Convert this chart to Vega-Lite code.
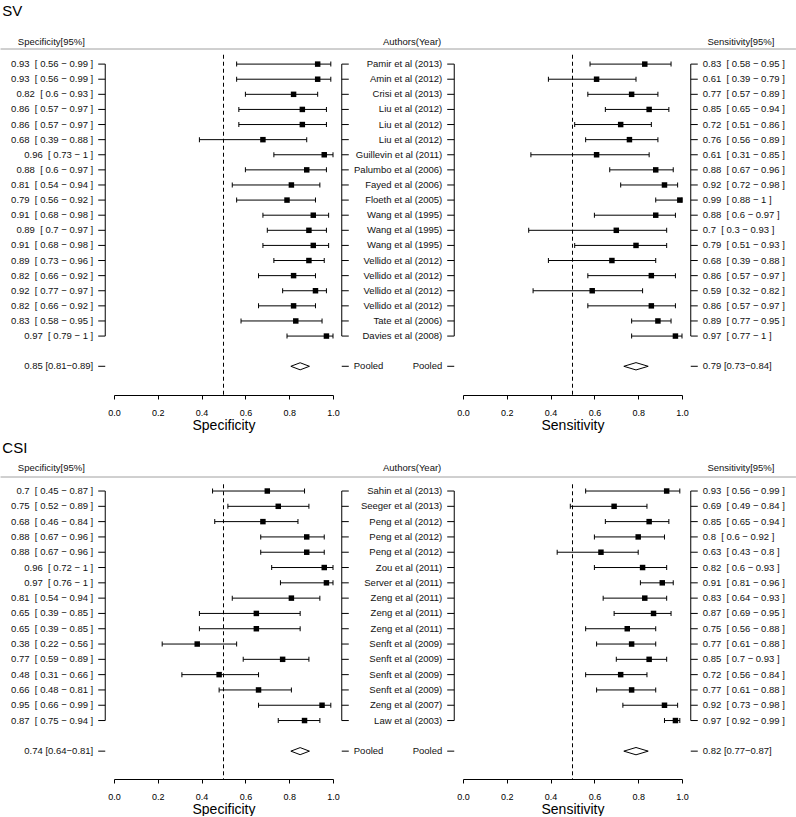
{
  "$schema": "https://vega.github.io/schema/vega-lite/v6.json",
  "background": "white",
  "padding": {"left": 0, "top": 4, "right": 0, "bottom": 0},
  "config": {
    "font": "Liberation Sans",
    "view": {"stroke": null},
    "text": {"font": "Liberation Sans", "fontSize": 9.5, "color": "#111"},
    "axis": {"labelFont": "Liberation Sans", "titleFont": "Liberation Sans"}
  },
  "datasets": {
    "one": [{}],
    "sv": [
      {"order": 0, "author": "Pamir et al (2013)", "spec": 0.93, "spec_lo": 0.56, "spec_hi": 0.99, "spec_label": "0.93 \u00a0[ 0.56 − 0.99 ]", "sens": 0.83, "sens_lo": 0.58, "sens_hi": 0.95, "sens_label": "0.83 \u00a0[ 0.58 − 0.95 ]", "pooled": false},
      {"order": 1, "author": "Amin et al (2012)", "spec": 0.93, "spec_lo": 0.56, "spec_hi": 0.99, "spec_label": "0.93 \u00a0[ 0.56 − 0.99 ]", "sens": 0.61, "sens_lo": 0.39, "sens_hi": 0.79, "sens_label": "0.61 \u00a0[ 0.39 − 0.79 ]", "pooled": false},
      {"order": 2, "author": "Crisi et al (2013)", "spec": 0.82, "spec_lo": 0.6, "spec_hi": 0.93, "spec_label": "0.82 \u00a0[ 0.6 − 0.93 ]", "sens": 0.77, "sens_lo": 0.57, "sens_hi": 0.89, "sens_label": "0.77 \u00a0[ 0.57 − 0.89 ]", "pooled": false},
      {"order": 3, "author": "Liu et al (2012)", "spec": 0.86, "spec_lo": 0.57, "spec_hi": 0.97, "spec_label": "0.86 \u00a0[ 0.57 − 0.97 ]", "sens": 0.85, "sens_lo": 0.65, "sens_hi": 0.94, "sens_label": "0.85 \u00a0[ 0.65 − 0.94 ]", "pooled": false},
      {"order": 4, "author": "Liu et al (2012)", "spec": 0.86, "spec_lo": 0.57, "spec_hi": 0.97, "spec_label": "0.86 \u00a0[ 0.57 − 0.97 ]", "sens": 0.72, "sens_lo": 0.51, "sens_hi": 0.86, "sens_label": "0.72 \u00a0[ 0.51 − 0.86 ]", "pooled": false},
      {"order": 5, "author": "Liu et al (2012)", "spec": 0.68, "spec_lo": 0.39, "spec_hi": 0.88, "spec_label": "0.68 \u00a0[ 0.39 − 0.88 ]", "sens": 0.76, "sens_lo": 0.56, "sens_hi": 0.89, "sens_label": "0.76 \u00a0[ 0.56 − 0.89 ]", "pooled": false},
      {"order": 6, "author": "Guillevin et al (2011)", "spec": 0.96, "spec_lo": 0.73, "spec_hi": 1, "spec_label": "0.96 \u00a0[ 0.73 − 1 ]", "sens": 0.61, "sens_lo": 0.31, "sens_hi": 0.85, "sens_label": "0.61 \u00a0[ 0.31 − 0.85 ]", "pooled": false},
      {"order": 7, "author": "Palumbo et al (2006)", "spec": 0.88, "spec_lo": 0.6, "spec_hi": 0.97, "spec_label": "0.88 \u00a0[ 0.6 − 0.97 ]", "sens": 0.88, "sens_lo": 0.67, "sens_hi": 0.96, "sens_label": "0.88 \u00a0[ 0.67 − 0.96 ]", "pooled": false},
      {"order": 8, "author": "Fayed et al (2006)", "spec": 0.81, "spec_lo": 0.54, "spec_hi": 0.94, "spec_label": "0.81 \u00a0[ 0.54 − 0.94 ]", "sens": 0.92, "sens_lo": 0.72, "sens_hi": 0.98, "sens_label": "0.92 \u00a0[ 0.72 − 0.98 ]", "pooled": false},
      {"order": 9, "author": "Floeth et al (2005)", "spec": 0.79, "spec_lo": 0.56, "spec_hi": 0.92, "spec_label": "0.79 \u00a0[ 0.56 − 0.92 ]", "sens": 0.99, "sens_lo": 0.88, "sens_hi": 1, "sens_label": "0.99 \u00a0[ 0.88 − 1 ]", "pooled": false},
      {"order": 10, "author": "Wang et al (1995)", "spec": 0.91, "spec_lo": 0.68, "spec_hi": 0.98, "spec_label": "0.91 \u00a0[ 0.68 − 0.98 ]", "sens": 0.88, "sens_lo": 0.6, "sens_hi": 0.97, "sens_label": "0.88 \u00a0[ 0.6 − 0.97 ]", "pooled": false},
      {"order": 11, "author": "Wang et al (1995)", "spec": 0.89, "spec_lo": 0.7, "spec_hi": 0.97, "spec_label": "0.89 \u00a0[ 0.7 − 0.97 ]", "sens": 0.7, "sens_lo": 0.3, "sens_hi": 0.93, "sens_label": "0.7 \u00a0[ 0.3 − 0.93 ]", "pooled": false},
      {"order": 12, "author": "Wang et al (1995)", "spec": 0.91, "spec_lo": 0.68, "spec_hi": 0.98, "spec_label": "0.91 \u00a0[ 0.68 − 0.98 ]", "sens": 0.79, "sens_lo": 0.51, "sens_hi": 0.93, "sens_label": "0.79 \u00a0[ 0.51 − 0.93 ]", "pooled": false},
      {"order": 13, "author": "Vellido et al (2012)", "spec": 0.89, "spec_lo": 0.73, "spec_hi": 0.96, "spec_label": "0.89 \u00a0[ 0.73 − 0.96 ]", "sens": 0.68, "sens_lo": 0.39, "sens_hi": 0.88, "sens_label": "0.68 \u00a0[ 0.39 − 0.88 ]", "pooled": false},
      {"order": 14, "author": "Vellido et al (2012)", "spec": 0.82, "spec_lo": 0.66, "spec_hi": 0.92, "spec_label": "0.82 \u00a0[ 0.66 − 0.92 ]", "sens": 0.86, "sens_lo": 0.57, "sens_hi": 0.97, "sens_label": "0.86 \u00a0[ 0.57 − 0.97 ]", "pooled": false},
      {"order": 15, "author": "Vellido et al (2012)", "spec": 0.92, "spec_lo": 0.77, "spec_hi": 0.97, "spec_label": "0.92 \u00a0[ 0.77 − 0.97 ]", "sens": 0.59, "sens_lo": 0.32, "sens_hi": 0.82, "sens_label": "0.59 \u00a0[ 0.32 − 0.82 ]", "pooled": false},
      {"order": 16, "author": "Vellido et al (2012)", "spec": 0.82, "spec_lo": 0.66, "spec_hi": 0.92, "spec_label": "0.82 \u00a0[ 0.66 − 0.92 ]", "sens": 0.86, "sens_lo": 0.57, "sens_hi": 0.97, "sens_label": "0.86 \u00a0[ 0.57 − 0.97 ]", "pooled": false},
      {"order": 17, "author": "Tate et al (2006)", "spec": 0.83, "spec_lo": 0.58, "spec_hi": 0.95, "spec_label": "0.83 \u00a0[ 0.58 − 0.95 ]", "sens": 0.89, "sens_lo": 0.77, "sens_hi": 0.95, "sens_label": "0.89 \u00a0[ 0.77 − 0.95 ]", "pooled": false},
      {"order": 18, "author": "Davies et al (2008)", "spec": 0.97, "spec_lo": 0.79, "spec_hi": 1, "spec_label": "0.97 \u00a0[ 0.79 − 1 ]", "sens": 0.97, "sens_lo": 0.77, "sens_hi": 1, "sens_label": "0.97 \u00a0[ 0.77 − 1 ]", "pooled": false},
      {"order": 20, "author": "Pooled", "spec": 0.85, "spec_lo": 0.81, "spec_hi": 0.89, "spec_label": "0.85 [0.81−0.89]", "sens": 0.79, "sens_lo": 0.73, "sens_hi": 0.84, "sens_label": "0.79 [0.73−0.84]", "pooled": true}
    ],
    "csi": [
      {"order": 0, "author": "Sahin et al (2013)", "spec": 0.7, "spec_lo": 0.45, "spec_hi": 0.87, "spec_label": "0.7 \u00a0[ 0.45 − 0.87 ]", "sens": 0.93, "sens_lo": 0.56, "sens_hi": 0.99, "sens_label": "0.93 \u00a0[ 0.56 − 0.99 ]", "pooled": false},
      {"order": 1, "author": "Seeger et al (2013)", "spec": 0.75, "spec_lo": 0.52, "spec_hi": 0.89, "spec_label": "0.75 \u00a0[ 0.52 − 0.89 ]", "sens": 0.69, "sens_lo": 0.49, "sens_hi": 0.84, "sens_label": "0.69 \u00a0[ 0.49 − 0.84 ]", "pooled": false},
      {"order": 2, "author": "Peng et al (2012)", "spec": 0.68, "spec_lo": 0.46, "spec_hi": 0.84, "spec_label": "0.68 \u00a0[ 0.46 − 0.84 ]", "sens": 0.85, "sens_lo": 0.65, "sens_hi": 0.94, "sens_label": "0.85 \u00a0[ 0.65 − 0.94 ]", "pooled": false},
      {"order": 3, "author": "Peng et al (2012)", "spec": 0.88, "spec_lo": 0.67, "spec_hi": 0.96, "spec_label": "0.88 \u00a0[ 0.67 − 0.96 ]", "sens": 0.8, "sens_lo": 0.6, "sens_hi": 0.92, "sens_label": "0.8 \u00a0[ 0.6 − 0.92 ]", "pooled": false},
      {"order": 4, "author": "Peng et al (2012)", "spec": 0.88, "spec_lo": 0.67, "spec_hi": 0.96, "spec_label": "0.88 \u00a0[ 0.67 − 0.96 ]", "sens": 0.63, "sens_lo": 0.43, "sens_hi": 0.8, "sens_label": "0.63 \u00a0[ 0.43 − 0.8 ]", "pooled": false},
      {"order": 5, "author": "Zou et al (2011)", "spec": 0.96, "spec_lo": 0.72, "spec_hi": 1, "spec_label": "0.96 \u00a0[ 0.72 − 1 ]", "sens": 0.82, "sens_lo": 0.6, "sens_hi": 0.93, "sens_label": "0.82 \u00a0[ 0.6 − 0.93 ]", "pooled": false},
      {"order": 6, "author": "Server et al (2011)", "spec": 0.97, "spec_lo": 0.76, "spec_hi": 1, "spec_label": "0.97 \u00a0[ 0.76 − 1 ]", "sens": 0.91, "sens_lo": 0.81, "sens_hi": 0.96, "sens_label": "0.91 \u00a0[ 0.81 − 0.96 ]", "pooled": false},
      {"order": 7, "author": "Zeng et al (2011)", "spec": 0.81, "spec_lo": 0.54, "spec_hi": 0.94, "spec_label": "0.81 \u00a0[ 0.54 − 0.94 ]", "sens": 0.83, "sens_lo": 0.64, "sens_hi": 0.93, "sens_label": "0.83 \u00a0[ 0.64 − 0.93 ]", "pooled": false},
      {"order": 8, "author": "Zeng et al (2011)", "spec": 0.65, "spec_lo": 0.39, "spec_hi": 0.85, "spec_label": "0.65 \u00a0[ 0.39 − 0.85 ]", "sens": 0.87, "sens_lo": 0.69, "sens_hi": 0.95, "sens_label": "0.87 \u00a0[ 0.69 − 0.95 ]", "pooled": false},
      {"order": 9, "author": "Zeng et al (2011)", "spec": 0.65, "spec_lo": 0.39, "spec_hi": 0.85, "spec_label": "0.65 \u00a0[ 0.39 − 0.85 ]", "sens": 0.75, "sens_lo": 0.56, "sens_hi": 0.88, "sens_label": "0.75 \u00a0[ 0.56 − 0.88 ]", "pooled": false},
      {"order": 10, "author": "Senft et al (2009)", "spec": 0.38, "spec_lo": 0.22, "spec_hi": 0.56, "spec_label": "0.38 \u00a0[ 0.22 − 0.56 ]", "sens": 0.77, "sens_lo": 0.61, "sens_hi": 0.88, "sens_label": "0.77 \u00a0[ 0.61 − 0.88 ]", "pooled": false},
      {"order": 11, "author": "Senft et al (2009)", "spec": 0.77, "spec_lo": 0.59, "spec_hi": 0.89, "spec_label": "0.77 \u00a0[ 0.59 − 0.89 ]", "sens": 0.85, "sens_lo": 0.7, "sens_hi": 0.93, "sens_label": "0.85 \u00a0[ 0.7 − 0.93 ]", "pooled": false},
      {"order": 12, "author": "Senft et al (2009)", "spec": 0.48, "spec_lo": 0.31, "spec_hi": 0.66, "spec_label": "0.48 \u00a0[ 0.31 − 0.66 ]", "sens": 0.72, "sens_lo": 0.56, "sens_hi": 0.84, "sens_label": "0.72 \u00a0[ 0.56 − 0.84 ]", "pooled": false},
      {"order": 13, "author": "Senft et al (2009)", "spec": 0.66, "spec_lo": 0.48, "spec_hi": 0.81, "spec_label": "0.66 \u00a0[ 0.48 − 0.81 ]", "sens": 0.77, "sens_lo": 0.61, "sens_hi": 0.88, "sens_label": "0.77 \u00a0[ 0.61 − 0.88 ]", "pooled": false},
      {"order": 14, "author": "Zeng et al (2007)", "spec": 0.95, "spec_lo": 0.66, "spec_hi": 0.99, "spec_label": "0.95 \u00a0[ 0.66 − 0.99 ]", "sens": 0.92, "sens_lo": 0.73, "sens_hi": 0.98, "sens_label": "0.92 \u00a0[ 0.73 − 0.98 ]", "pooled": false},
      {"order": 15, "author": "Law et al (2003)", "spec": 0.87, "spec_lo": 0.75, "spec_hi": 0.94, "spec_label": "0.87 \u00a0[ 0.75 − 0.94 ]", "sens": 0.97, "sens_lo": 0.92, "sens_hi": 0.99, "sens_label": "0.97 \u00a0[ 0.92 − 0.99 ]", "pooled": false},
      {"order": 17, "author": "Pooled", "spec": 0.85, "spec_lo": 0.81, "spec_hi": 0.89, "spec_label": "0.74 [0.64−0.81]", "sens": 0.79, "sens_lo": 0.73, "sens_hi": 0.84, "sens_label": "0.82 [0.77−0.87]", "pooled": true}
    ]
  },
  "columns": 2,
  "spacing": {"row": 82, "column": 130},
  "bounds": "flush",
  "concat": [
    {
      "width": 219, "height": 346,
      "data": {"name": "sv"},
      "layer": [
        {"mark": {"type": "rule", "color": "#000", "strokeWidth": 1, "clip": false},
         "transform": [{"filter": "!datum.pooled"}],
         "encoding": {
           "x": {"field": "spec_lo", "type": "quantitative",
                 "scale": {"domain": [0, 1], "nice": false, "zero": false},
                 "axis": {"values": [0, 0.2, 0.4, 0.6, 0.8, 1], "format": ".1f", "title": "Specificity", "grid": false, "domainColor": "#000", "tickColor": "#000", "tickSize": 4, "labelFontSize": 9, "labelColor": "#000", "labelPadding": 9, "labelFlush": false, "labelOverlap": false, "titleFontSize": 14, "titleFontWeight": "normal", "titleColor": "#000", "titleBaseline": "alphabetic", "titleY": 34}},
           "x2": {"field": "spec_hi"},
           "y": {"field": "order", "type": "quantitative", "scale": {"domain": [-1, 21.9], "reverse": true, "nice": false, "zero": false}, "axis": null}
         }},
        {"mark": {"type": "tick", "orient": "vertical", "size": 5, "thickness": 1, "color": "#000", "opacity": 1, "clip": false},
         "transform": [{"filter": "!datum.pooled"}],
         "encoding": {"x": {"field": "spec_lo", "type": "quantitative"}, "y": {"field": "order", "type": "quantitative"}}},
        {"mark": {"type": "tick", "orient": "vertical", "size": 5, "thickness": 1, "color": "#000", "opacity": 1, "clip": false},
         "transform": [{"filter": "!datum.pooled"}],
         "encoding": {"x": {"field": "spec_hi", "type": "quantitative"}, "y": {"field": "order", "type": "quantitative"}}},
        {"mark": {"type": "point", "shape": "square", "filled": true, "size": 30, "color": "#000", "opacity": 1, "clip": false},
         "transform": [{"filter": "!datum.pooled"}],
         "encoding": {"x": {"field": "spec", "type": "quantitative"}, "y": {"field": "order", "type": "quantitative"}}},
        {"mark": {"type": "point", "shape": "M-1,0L0,-0.38L1,0L0,0.38Z", "filled": true, "fill": "#fff", "stroke": "#000", "strokeWidth": 1, "size": 346, "opacity": 1, "clip": false},
         "transform": [{"filter": "datum.pooled"}],
         "encoding": {"x": {"field": "spec", "type": "quantitative"}, "y": {"field": "order", "type": "quantitative"}}},
        {"data": {"name": "one"},
         "mark": {"type": "rule", "color": "#000", "strokeWidth": 1, "strokeDash": [4, 3], "clip": false},
         "encoding": {"x": {"datum": 0.5, "type": "quantitative"}, "y": {"datum": -0.62, "type": "quantitative"}, "y2": {"datum": 21.9}}},
        {"mark": {"type": "rule", "color": "#000", "strokeWidth": 1, "clip": false},
         "transform": [{"filter": "!datum.pooled"}],
         "encoding": {"x": {"datum": -0.04, "type": "quantitative"}, "y": {"aggregate": "min", "field": "order", "type": "quantitative"}, "y2": {"aggregate": "max", "field": "order"}}},
        {"mark": {"type": "rule", "color": "#000", "strokeWidth": 1, "clip": false},
         "transform": [{"filter": "!datum.pooled"}],
         "encoding": {"x": {"datum": 1.04, "type": "quantitative"}, "y": {"aggregate": "min", "field": "order", "type": "quantitative"}, "y2": {"aggregate": "max", "field": "order"}}},
        {"mark": {"type": "rule", "color": "#000", "strokeWidth": 1, "clip": false},
         "encoding": {"x": {"datum": -0.04, "type": "quantitative"}, "x2": {"datum": -0.072}, "y": {"field": "order", "type": "quantitative"}}},
        {"mark": {"type": "rule", "color": "#000", "strokeWidth": 1, "clip": false},
         "encoding": {"x": {"datum": 1.04, "type": "quantitative"}, "x2": {"datum": 1.072}, "y": {"field": "order", "type": "quantitative"}}},
        {"mark": {"type": "text", "align": "right", "baseline": "middle", "dx": -12, "clip": false},
         "encoding": {"x": {"datum": -0.04, "type": "quantitative"}, "y": {"field": "order", "type": "quantitative"}, "text": {"field": "spec_label"}}},
        {"mark": {"type": "text", "align": "left", "baseline": "middle", "dx": 12, "clip": false},
         "transform": [{"filter": "datum.pooled"}],
         "encoding": {"x": {"datum": 1.04, "type": "quantitative"}, "y": {"field": "order", "type": "quantitative"}, "text": {"field": "author"}}},
        {"data": {"name": "one"},
         "mark": {"type": "rule", "color": "#a0a0a0", "strokeWidth": 1, "clip": false},
         "encoding": {"x": {"datum": -0.518, "type": "quantitative"}, "x2": {"datum": 3.114}, "y": {"datum": -1, "type": "quantitative"}}},
        {"data": {"name": "one"},
         "mark": {"type": "text", "align": "left", "baseline": "middle", "fontSize": 15, "color": "#000", "clip": false},
         "encoding": {"x": {"datum": -0.51, "type": "quantitative"}, "y": {"datum": -3.5, "type": "quantitative"}, "text": {"value": "SV"}}},
        {"data": {"name": "one"},
         "mark": {"type": "text", "align": "center", "baseline": "middle", "clip": false},
         "encoding": {"x": {"datum": -0.286, "type": "quantitative"}, "y": {"datum": -1.483, "type": "quantitative"}, "text": {"value": "Specificity[95%]"}}}
      ]
    },
    {
      "width": 219, "height": 346,
      "data": {"name": "sv"},
      "layer": [
        {"mark": {"type": "rule", "color": "#000", "strokeWidth": 1, "clip": false},
         "transform": [{"filter": "!datum.pooled"}],
         "encoding": {
           "x": {"field": "sens_lo", "type": "quantitative",
                 "scale": {"domain": [0, 1], "nice": false, "zero": false},
                 "axis": {"values": [0, 0.2, 0.4, 0.6, 0.8, 1], "format": ".1f", "title": "Sensitivity", "grid": false, "domainColor": "#000", "tickColor": "#000", "tickSize": 4, "labelFontSize": 9, "labelColor": "#000", "labelPadding": 9, "labelFlush": false, "labelOverlap": false, "titleFontSize": 14, "titleFontWeight": "normal", "titleColor": "#000", "titleBaseline": "alphabetic", "titleY": 34}},
           "x2": {"field": "sens_hi"},
           "y": {"field": "order", "type": "quantitative", "scale": {"domain": [-1, 21.9], "reverse": true, "nice": false, "zero": false}, "axis": null}
         }},
        {"mark": {"type": "tick", "orient": "vertical", "size": 5, "thickness": 1, "color": "#000", "opacity": 1, "clip": false},
         "transform": [{"filter": "!datum.pooled"}],
         "encoding": {"x": {"field": "sens_lo", "type": "quantitative"}, "y": {"field": "order", "type": "quantitative"}}},
        {"mark": {"type": "tick", "orient": "vertical", "size": 5, "thickness": 1, "color": "#000", "opacity": 1, "clip": false},
         "transform": [{"filter": "!datum.pooled"}],
         "encoding": {"x": {"field": "sens_hi", "type": "quantitative"}, "y": {"field": "order", "type": "quantitative"}}},
        {"mark": {"type": "point", "shape": "square", "filled": true, "size": 30, "color": "#000", "opacity": 1, "clip": false},
         "transform": [{"filter": "!datum.pooled"}],
         "encoding": {"x": {"field": "sens", "type": "quantitative"}, "y": {"field": "order", "type": "quantitative"}}},
        {"mark": {"type": "point", "shape": "M-1,0L0,-0.3L1,0L0,0.3Z", "filled": true, "fill": "#fff", "stroke": "#000", "strokeWidth": 1, "size": 595, "opacity": 1, "clip": false},
         "transform": [{"filter": "datum.pooled"}],
         "encoding": {"x": {"field": "sens", "type": "quantitative"}, "y": {"field": "order", "type": "quantitative"}}},
        {"data": {"name": "one"},
         "mark": {"type": "rule", "color": "#000", "strokeWidth": 1, "strokeDash": [4, 3], "clip": false},
         "encoding": {"x": {"datum": 0.5, "type": "quantitative"}, "y": {"datum": -0.62, "type": "quantitative"}, "y2": {"datum": 21.9}}},
        {"mark": {"type": "rule", "color": "#000", "strokeWidth": 1, "clip": false},
         "transform": [{"filter": "!datum.pooled"}],
         "encoding": {"x": {"datum": -0.04, "type": "quantitative"}, "y": {"aggregate": "min", "field": "order", "type": "quantitative"}, "y2": {"aggregate": "max", "field": "order"}}},
        {"mark": {"type": "rule", "color": "#000", "strokeWidth": 1, "clip": false},
         "transform": [{"filter": "!datum.pooled"}],
         "encoding": {"x": {"datum": 1.04, "type": "quantitative"}, "y": {"aggregate": "min", "field": "order", "type": "quantitative"}, "y2": {"aggregate": "max", "field": "order"}}},
        {"mark": {"type": "rule", "color": "#000", "strokeWidth": 1, "clip": false},
         "encoding": {"x": {"datum": -0.04, "type": "quantitative"}, "x2": {"datum": -0.072}, "y": {"field": "order", "type": "quantitative"}}},
        {"mark": {"type": "rule", "color": "#000", "strokeWidth": 1, "clip": false},
         "encoding": {"x": {"datum": 1.04, "type": "quantitative"}, "x2": {"datum": 1.072}, "y": {"field": "order", "type": "quantitative"}}},
        {"mark": {"type": "text", "align": "right", "baseline": "middle", "dx": -12, "clip": false},
         "encoding": {"x": {"datum": -0.04, "type": "quantitative"}, "y": {"field": "order", "type": "quantitative"}, "text": {"field": "author"}}},
        {"mark": {"type": "text", "align": "left", "baseline": "middle", "dx": 12, "clip": false},
         "encoding": {"x": {"datum": 1.04, "type": "quantitative"}, "y": {"field": "order", "type": "quantitative"}, "text": {"field": "sens_label"}}},
        {"data": {"name": "one"},
         "mark": {"type": "text", "align": "right", "baseline": "middle", "dx": -13, "clip": false},
         "encoding": {"x": {"datum": -0.04, "type": "quantitative"}, "y": {"datum": -1.483, "type": "quantitative"}, "text": {"value": "Authors(Year)"}}},
        {"data": {"name": "one"},
         "mark": {"type": "text", "align": "center", "baseline": "middle", "clip": false},
         "encoding": {"x": {"datum": 1.269, "type": "quantitative"}, "y": {"datum": -1.483, "type": "quantitative"}, "text": {"value": "Sensitivity[95%]"}}}
      ]
    },
    {
      "width": 219, "height": 302,
      "data": {"name": "csi"},
      "layer": [
        {"mark": {"type": "rule", "color": "#000", "strokeWidth": 1, "clip": false},
         "transform": [{"filter": "!datum.pooled"}],
         "encoding": {
           "x": {"field": "spec_lo", "type": "quantitative",
                 "scale": {"domain": [0, 1], "nice": false, "zero": false},
                 "axis": {"values": [0, 0.2, 0.4, 0.6, 0.8, 1], "format": ".1f", "title": "Specificity", "grid": false, "domainColor": "#000", "tickColor": "#000", "tickSize": 4, "labelFontSize": 9, "labelColor": "#000", "labelPadding": 9, "labelFlush": false, "labelOverlap": false, "titleFontSize": 14, "titleFontWeight": "normal", "titleColor": "#000", "titleBaseline": "alphabetic", "titleY": 34}},
           "x2": {"field": "spec_hi"},
           "y": {"field": "order", "type": "quantitative", "scale": {"domain": [-0.916, 18.82], "reverse": true, "nice": false, "zero": false}, "axis": null}
         }},
        {"mark": {"type": "tick", "orient": "vertical", "size": 5, "thickness": 1, "color": "#000", "opacity": 1, "clip": false},
         "transform": [{"filter": "!datum.pooled"}],
         "encoding": {"x": {"field": "spec_lo", "type": "quantitative"}, "y": {"field": "order", "type": "quantitative"}}},
        {"mark": {"type": "tick", "orient": "vertical", "size": 5, "thickness": 1, "color": "#000", "opacity": 1, "clip": false},
         "transform": [{"filter": "!datum.pooled"}],
         "encoding": {"x": {"field": "spec_hi", "type": "quantitative"}, "y": {"field": "order", "type": "quantitative"}}},
        {"mark": {"type": "point", "shape": "square", "filled": true, "size": 30, "color": "#000", "opacity": 1, "clip": false},
         "transform": [{"filter": "!datum.pooled"}],
         "encoding": {"x": {"field": "spec", "type": "quantitative"}, "y": {"field": "order", "type": "quantitative"}}},
        {"mark": {"type": "point", "shape": "M-1,0L0,-0.38L1,0L0,0.38Z", "filled": true, "fill": "#fff", "stroke": "#000", "strokeWidth": 1, "size": 346, "opacity": 1, "clip": false},
         "transform": [{"filter": "datum.pooled"}],
         "encoding": {"x": {"field": "spec", "type": "quantitative"}, "y": {"field": "order", "type": "quantitative"}}},
        {"data": {"name": "one"},
         "mark": {"type": "rule", "color": "#000", "strokeWidth": 1, "strokeDash": [4, 3], "clip": false},
         "encoding": {"x": {"datum": 0.5, "type": "quantitative"}, "y": {"datum": -0.44, "type": "quantitative"}, "y2": {"datum": 18.82}}},
        {"mark": {"type": "rule", "color": "#000", "strokeWidth": 1, "clip": false},
         "transform": [{"filter": "!datum.pooled"}],
         "encoding": {"x": {"datum": -0.04, "type": "quantitative"}, "y": {"aggregate": "min", "field": "order", "type": "quantitative"}, "y2": {"aggregate": "max", "field": "order"}}},
        {"mark": {"type": "rule", "color": "#000", "strokeWidth": 1, "clip": false},
         "transform": [{"filter": "!datum.pooled"}],
         "encoding": {"x": {"datum": 1.04, "type": "quantitative"}, "y": {"aggregate": "min", "field": "order", "type": "quantitative"}, "y2": {"aggregate": "max", "field": "order"}}},
        {"mark": {"type": "rule", "color": "#000", "strokeWidth": 1, "clip": false},
         "encoding": {"x": {"datum": -0.04, "type": "quantitative"}, "x2": {"datum": -0.072}, "y": {"field": "order", "type": "quantitative"}}},
        {"mark": {"type": "rule", "color": "#000", "strokeWidth": 1, "clip": false},
         "encoding": {"x": {"datum": 1.04, "type": "quantitative"}, "x2": {"datum": 1.072}, "y": {"field": "order", "type": "quantitative"}}},
        {"mark": {"type": "text", "align": "right", "baseline": "middle", "dx": -12, "clip": false},
         "encoding": {"x": {"datum": -0.04, "type": "quantitative"}, "y": {"field": "order", "type": "quantitative"}, "text": {"field": "spec_label"}}},
        {"mark": {"type": "text", "align": "left", "baseline": "middle", "dx": 12, "clip": false},
         "transform": [{"filter": "datum.pooled"}],
         "encoding": {"x": {"datum": 1.04, "type": "quantitative"}, "y": {"field": "order", "type": "quantitative"}, "text": {"field": "author"}}},
        {"data": {"name": "one"},
         "mark": {"type": "rule", "color": "#a0a0a0", "strokeWidth": 1, "clip": false},
         "encoding": {"x": {"datum": -0.518, "type": "quantitative"}, "x2": {"datum": 3.114}, "y": {"datum": -0.916, "type": "quantitative"}}},
        {"data": {"name": "one"},
         "mark": {"type": "text", "align": "left", "baseline": "middle", "fontSize": 15, "color": "#000", "clip": false},
         "encoding": {"x": {"datum": -0.51, "type": "quantitative"}, "y": {"datum": -2.795, "type": "quantitative"}, "text": {"value": "CSI"}}},
        {"data": {"name": "one"},
         "mark": {"type": "text", "align": "center", "baseline": "middle", "clip": false},
         "encoding": {"x": {"datum": -0.286, "type": "quantitative"}, "y": {"datum": -1.53, "type": "quantitative"}, "text": {"value": "Specificity[95%]"}}}
      ]
    },
    {
      "width": 219, "height": 302,
      "data": {"name": "csi"},
      "layer": [
        {"mark": {"type": "rule", "color": "#000", "strokeWidth": 1, "clip": false},
         "transform": [{"filter": "!datum.pooled"}],
         "encoding": {
           "x": {"field": "sens_lo", "type": "quantitative",
                 "scale": {"domain": [0, 1], "nice": false, "zero": false},
                 "axis": {"values": [0, 0.2, 0.4, 0.6, 0.8, 1], "format": ".1f", "title": "Sensitivity", "grid": false, "domainColor": "#000", "tickColor": "#000", "tickSize": 4, "labelFontSize": 9, "labelColor": "#000", "labelPadding": 9, "labelFlush": false, "labelOverlap": false, "titleFontSize": 14, "titleFontWeight": "normal", "titleColor": "#000", "titleBaseline": "alphabetic", "titleY": 34}},
           "x2": {"field": "sens_hi"},
           "y": {"field": "order", "type": "quantitative", "scale": {"domain": [-0.916, 18.82], "reverse": true, "nice": false, "zero": false}, "axis": null}
         }},
        {"mark": {"type": "tick", "orient": "vertical", "size": 5, "thickness": 1, "color": "#000", "opacity": 1, "clip": false},
         "transform": [{"filter": "!datum.pooled"}],
         "encoding": {"x": {"field": "sens_lo", "type": "quantitative"}, "y": {"field": "order", "type": "quantitative"}}},
        {"mark": {"type": "tick", "orient": "vertical", "size": 5, "thickness": 1, "color": "#000", "opacity": 1, "clip": false},
         "transform": [{"filter": "!datum.pooled"}],
         "encoding": {"x": {"field": "sens_hi", "type": "quantitative"}, "y": {"field": "order", "type": "quantitative"}}},
        {"mark": {"type": "point", "shape": "square", "filled": true, "size": 30, "color": "#000", "opacity": 1, "clip": false},
         "transform": [{"filter": "!datum.pooled"}],
         "encoding": {"x": {"field": "sens", "type": "quantitative"}, "y": {"field": "order", "type": "quantitative"}}},
        {"mark": {"type": "point", "shape": "M-1,0L0,-0.3L1,0L0,0.3Z", "filled": true, "fill": "#fff", "stroke": "#000", "strokeWidth": 1, "size": 595, "opacity": 1, "clip": false},
         "transform": [{"filter": "datum.pooled"}],
         "encoding": {"x": {"field": "sens", "type": "quantitative"}, "y": {"field": "order", "type": "quantitative"}}},
        {"data": {"name": "one"},
         "mark": {"type": "rule", "color": "#000", "strokeWidth": 1, "strokeDash": [4, 3], "clip": false},
         "encoding": {"x": {"datum": 0.5, "type": "quantitative"}, "y": {"datum": -0.44, "type": "quantitative"}, "y2": {"datum": 18.82}}},
        {"mark": {"type": "rule", "color": "#000", "strokeWidth": 1, "clip": false},
         "transform": [{"filter": "!datum.pooled"}],
         "encoding": {"x": {"datum": -0.04, "type": "quantitative"}, "y": {"aggregate": "min", "field": "order", "type": "quantitative"}, "y2": {"aggregate": "max", "field": "order"}}},
        {"mark": {"type": "rule", "color": "#000", "strokeWidth": 1, "clip": false},
         "transform": [{"filter": "!datum.pooled"}],
         "encoding": {"x": {"datum": 1.04, "type": "quantitative"}, "y": {"aggregate": "min", "field": "order", "type": "quantitative"}, "y2": {"aggregate": "max", "field": "order"}}},
        {"mark": {"type": "rule", "color": "#000", "strokeWidth": 1, "clip": false},
         "encoding": {"x": {"datum": -0.04, "type": "quantitative"}, "x2": {"datum": -0.072}, "y": {"field": "order", "type": "quantitative"}}},
        {"mark": {"type": "rule", "color": "#000", "strokeWidth": 1, "clip": false},
         "encoding": {"x": {"datum": 1.04, "type": "quantitative"}, "x2": {"datum": 1.072}, "y": {"field": "order", "type": "quantitative"}}},
        {"mark": {"type": "text", "align": "right", "baseline": "middle", "dx": -12, "clip": false},
         "encoding": {"x": {"datum": -0.04, "type": "quantitative"}, "y": {"field": "order", "type": "quantitative"}, "text": {"field": "author"}}},
        {"mark": {"type": "text", "align": "left", "baseline": "middle", "dx": 12, "clip": false},
         "encoding": {"x": {"datum": 1.04, "type": "quantitative"}, "y": {"field": "order", "type": "quantitative"}, "text": {"field": "sens_label"}}},
        {"data": {"name": "one"},
         "mark": {"type": "text", "align": "right", "baseline": "middle", "dx": -13, "clip": false},
         "encoding": {"x": {"datum": -0.04, "type": "quantitative"}, "y": {"datum": -1.53, "type": "quantitative"}, "text": {"value": "Authors(Year)"}}},
        {"data": {"name": "one"},
         "mark": {"type": "text", "align": "center", "baseline": "middle", "clip": false},
         "encoding": {"x": {"datum": 1.269, "type": "quantitative"}, "y": {"datum": -1.53, "type": "quantitative"}, "text": {"value": "Sensitivity[95%]"}}}
      ]
    }
  ]
}
